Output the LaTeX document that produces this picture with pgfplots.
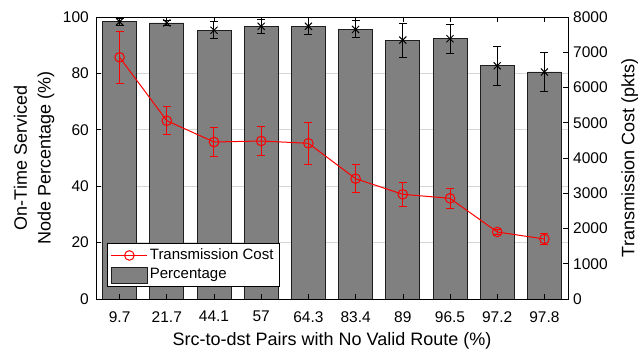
\documentclass[border=0pt]{standalone}
\usepackage{fontspec}
\setmainfont{Liberation Sans}
\usepackage{pgfplots}
\pgfplotsset{compat=1.18}
\definecolor{bargray}{RGB}{128,128,128}
\definecolor{baredge}{RGB}{30,30,30}
\definecolor{gridgray}{RGB}{215,215,215}
\pgfplotsset{
  longline legend/.style={legend image code/.code={\draw[mark repeat=2,mark phase=2,##1] plot coordinates {(0pt,0pt)(18pt,0pt)(36pt,0pt)};}},
  barpatch legend/.style={legend image code/.code={\draw[fill=bargray, draw=baredge, line width=0.7pt] (0pt,-8pt) rectangle (36pt,8pt);}},
}
\pgfplotstableread{
x y e
0 98.3 1.2
1 97.9 1.0
2 95.3 3.0
3 96.7 2.5
4 96.7 3.0
5 95.6 3.0
6 91.8 6.0
7 92.3 5.2
8 82.7 6.9
9 80.5 7.0
}\pct
\pgfplotstableread{
x y e
0 6857 740
1 5058 390
2 4454 400
3 4482 425
4 4417 595
5 3413 390
6 2970 345
7 2856 285
8 1901 80
9 1702 170
}\cost
\begin{document}
\fontsize{15}{18}\selectfont
\begin{tikzpicture}
\useasboundingbox (-96pt,-51pt) rectangle (542pt,299pt);
\pgfplotsset{
  common/.style={
    scale only axis, width=472pt, height=282pt,
    xmin=-0.5, xmax=9.5,
    tick align=inside,
    major tick length=5pt,
    tick style={black, line width=0.6pt},
    axis line style={black, line width=0.6pt},
    ticklabel style={font=\fontsize{15.5}{18}\selectfont},
    label style={font=\fontsize{18}{22}\selectfont},
    /pgf/number format/assume math mode=true,
    /pgf/number format/1000 sep={},
    scaled y ticks=false,
  }
}
\begin{axis}[common,
  ymin=0, ymax=100,
  ytick={0,20,...,100},
  ytick pos=left,
  xtick={0,...,9},
  xticklabels={9.7,21.7,44.1,57,64.3,83.4,89,96.5,97.2,97.8},
  xtick pos=bottom,
  xtick style={draw=none},
  xticklabel style={yshift=-7pt},
  yticklabel style={xshift=-2pt},
  ymajorgrids,
  grid style={gridgray, line width=0.6pt},
  xlabel={Src-to-dst Pairs with No Valid Route (\%)},
  xlabel style={at={(axis description cs:0.5,0)}, anchor=base, yshift=-47pt},
  ylabel={On-Time Serviced\\Node Percentage (\%)},
  ylabel style={at={(axis description cs:-0.131,0.5)}, anchor=center, rotate=0, align=center, font=\fontsize{18}{23.7}\selectfont},
]
\addplot[ybar, bar width=0.72, fill=bargray, draw=baredge, line width=0.7pt] table[x=x, y=y] {\pct};
\addplot[only marks, mark=x, mark size=5pt, black, line width=1pt,
  error bars/.cd, y dir=both, y explicit,
  error bar style={black, line width=1pt},
  error mark options={black, mark size=4pt, line width=1pt, rotate=90}]
  table[x=x, y=y, y error=e] {\pct};
\end{axis}
\begin{axis}[common,
  ymin=0, ymax=8000,
  ytick={0,1000,...,8000},
  ytick pos=right,
  yticklabel pos=right,
  xtick={0,...,9},
  xticklabels={},
  xtick pos=both,
  ylabel={Transmission Cost (pkts)},
  ylabel style={at={(axis description cs:1.1305,0.5)}, anchor=center, rotate=0},
  legend style={at={(rel axis cs:0.0235,0.0425)}, anchor=south west,
    draw=black, line width=0.6pt, fill=white,
    font=\fontsize{15}{18}\selectfont,
    inner sep=3.5pt, row sep=2.5pt,
    legend cell align=left},
]
\addplot[red, line width=1pt, mark=o, mark size=4.8pt, mark options={line width=1pt},
  longline legend,
  error bars/.cd, y dir=both, y explicit,
  error bar style={red, line width=1pt},
  error mark options={red, mark size=4pt, line width=1pt, rotate=90}]
  table[x=x, y=y, y error=e] {\cost};
\addlegendentry{Transmission Cost}
\addlegendimage{barpatch legend}
\addlegendentry{Percentage}
\end{axis}
\end{tikzpicture}
\end{document}
